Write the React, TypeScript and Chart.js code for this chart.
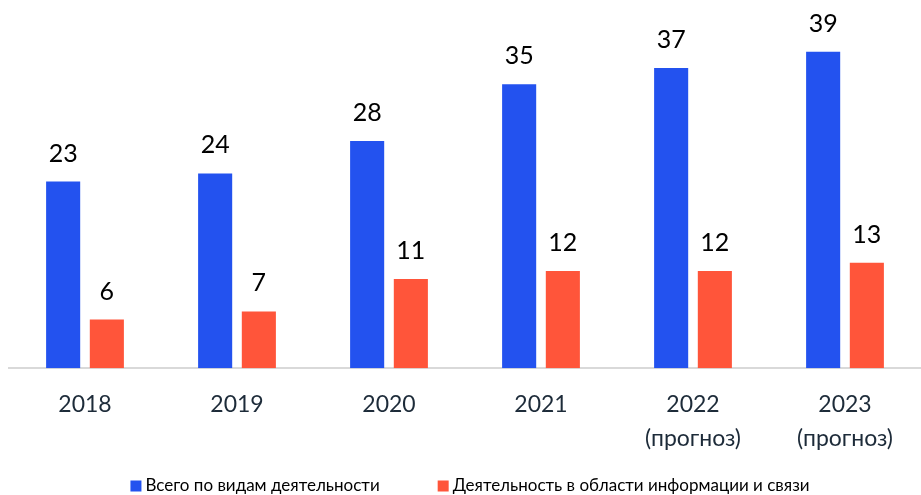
import React, { useEffect, useRef } from "react";
import { Chart, registerables } from "chart.js";

Chart.register(...registerables);

const categories: string[][] = [
  ["2018"],
  ["2019"],
  ["2020"],
  ["2021"],
  ["2022", "(прогноз)"],
  ["2023", "(прогноз)"],
];
const seriesNames = [
  "Всего по видам деятельности",
  "Деятельность в области информации и связи",
];
const totalValues = [23, 24, 28, 35, 37, 39];
const ictValues = [6, 7, 11, 12, 12, 13];
const seriesColors = ["#2352EF", "#FF553A"];

const FONT = 'Lato, "Open Sans", sans-serif';

const valueLabels = {
  id: "valueLabels",
  afterDatasetsDraw(chart: any) {
    const ctx = chart.ctx;
    ctx.save();
    ctx.font = `25px ${FONT}`;
    ctx.fillStyle = "#000000";
    ctx.textAlign = "center";
    ctx.textBaseline = "alphabetic";
    chart.data.datasets.forEach((ds: any, i: number) => {
      const meta = chart.getDatasetMeta(i);
      meta.data.forEach((el: any, j: number) => {
        ctx.fillText(String(ds.data[j]), el.x, el.y - 20);
      });
    });
    ctx.restore();
  },
};

const bottomLegend = {
  id: "bottomLegend",
  afterDraw(chart: any) {
    const ctx = chart.ctx;
    ctx.save();
    ctx.font = `17px ${FONT}`;
    const box = 11;
    const boxGap = 4;
    const itemGap = 58;
    const widths = chart.data.datasets.map(
      (ds: any) => box + boxGap + ctx.measureText(ds.label).width
    );
    const total = widths.reduce((a: number, b: number) => a + b, 0) + itemGap * (widths.length - 1);
    const center = (chart.chartArea.left + chart.chartArea.right) / 2 + 5;
    let x = center - total / 2;
    const y = 486;
    chart.data.datasets.forEach((ds: any, i: number) => {
      ctx.fillStyle = ds.backgroundColor;
      ctx.fillRect(x, y - box / 2, box, box);
      ctx.fillStyle = "#000000";
      ctx.textAlign = "left";
      ctx.textBaseline = "middle";
      ctx.fillText(ds.label, x + box + boxGap, y);
      x += widths[i] + itemGap;
    });
    ctx.restore();
  },
};

export default function App() {
  const canvasRef = useRef<HTMLCanvasElement | null>(null);

  useEffect(() => {
    if (!canvasRef.current) return;
    const chart = new Chart(canvasRef.current, {
      type: "bar",
      data: {
        labels: categories,
        datasets: [
          {
            label: seriesNames[0],
            data: totalValues,
            backgroundColor: seriesColors[0],
            categoryPercentage: 0.575,
            barPercentage: 0.78,
          },
          {
            label: seriesNames[1],
            data: ictValues,
            backgroundColor: seriesColors[1],
            categoryPercentage: 0.575,
            barPercentage: 0.78,
          },
        ],
      },
      options: {
        responsive: false,
        animation: false,
        layout: { padding: { top: 3, left: 9, right: 0, bottom: 28 } },
        plugins: {
          legend: { display: false },
          tooltip: { enabled: false },
        },
        scales: {
          x: {
            grid: { display: false },
            border: { display: true, color: "#D9D9D9", width: 2 },
            ticks: {
              color: "#1D2B39",
              font: { family: FONT, size: 23, lineHeight: 1.45 },
              padding: 12,
              maxRotation: 0,
              autoSkip: false,
            },
          },
          y: {
            display: false,
            min: 0,
            max: 45,
          },
        },
      },
      plugins: [valueLabels, bottomLegend],
    });
    return () => chart.destroy();
  }, []);

  return (
    <div style={{ position: "fixed", left: 0, top: 0, width: 921, height: 495, background: "#fff" }}>
      <canvas ref={canvasRef} width={921} height={495} style={{ display: "block" }} />
    </div>
  );
}
